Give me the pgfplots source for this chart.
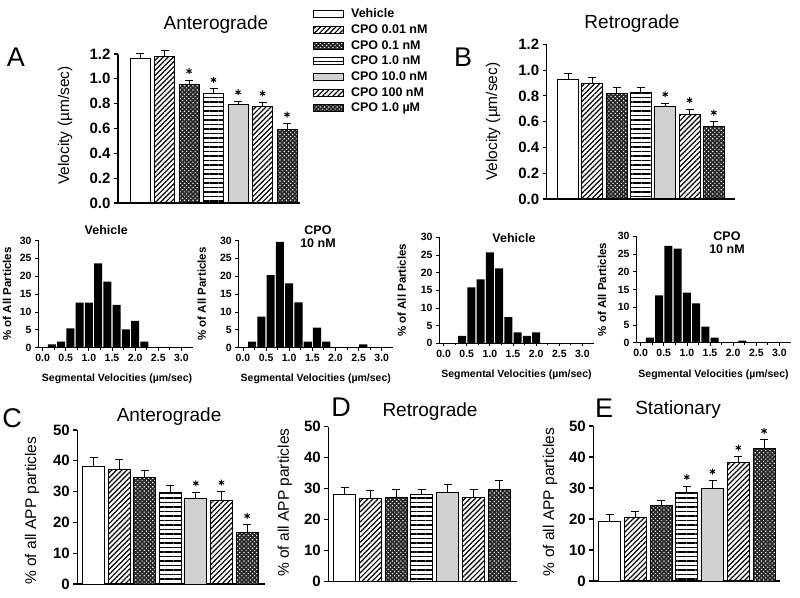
\documentclass[border=0pt]{standalone}
\usepackage{fontspec}
\setmainfont{Liberation Sans}
\usepackage{pgfplots}
\pgfplotsset{compat=1.18}
\usetikzlibrary{patterns.meta}

\newcommand{\fs}[1]{\fontsize{#1}{#1}\selectfont}

\pgfplotsset{
  barpanel/.style={
    scale only axis, clip=false,
    axis x line*=bottom, axis y line*=left,
    xtick=\empty, tick align=outside, major tick length=4pt,
    axis line style={line width=1.1pt},
    every tick/.style={black, line width=1.1pt},
    /pgf/number format/assume math mode=true,
    tick label style={font=\bfseries\fs{15}},
    ylabel style={font=\fs{15.5}, anchor=center},
    every axis title/.style={font=\fs{19}, anchor=center},
  },
  barbase/.style={ybar, bar shift=0pt, draw=black, line width=1pt, forget plot,
    error bars/y dir=plus, error bars/y explicit,
    error bars/error bar style={line width=1pt, black},
    error bars/error mark options={rotate=90, mark size=4pt, line width=1pt, black}},
  s1/.style={barbase, fill=white},
  s2/.style={barbase, pattern={Lines[angle=45,distance=3.6pt,line width=1.2pt]}, pattern color=black},
  s3/.style={barbase, fill=black!85, postaction={pattern={Dots[distance=3pt,radius=0.8pt,angle=45]}, pattern color=white}},
  s4/.style={barbase, pattern={Lines[angle=0,distance=4.5pt,line width=1.4pt]}, pattern color=black},
  s5/.style={barbase, fill=black!18},
  stars/.style={only marks, mark=asterisk, mark size=3pt, line width=1pt, black, forget plot},
  hist/.style={
    scale only axis, clip=false, width=155pt,
    axis x line*=bottom, axis y line*=left,
    xmin=-0.1, xmax=3.25, ymin=0, ymax=30,
    xtick={0,0.5,1,1.5,2,2.5,3}, ytick={0,5,10,15,20,25,30},
    minor x tick num=1,
    tick align=outside, major tick length=3pt, minor tick length=2pt,
    axis line style={line width=0.8pt},
    every tick/.style={black, line width=0.8pt},
    /pgf/number format/assume math mode=true,
    tick label style={font=\bfseries\fs{10.5}},
    xticklabel style={/pgf/number format/.cd, fixed, fixed zerofill, precision=1},
    xlabel={Segmental Velocities (µm/sec)},
    ylabel={\% of All Particles},
    xlabel style={font=\bfseries\fs{10.5}, anchor=center},
    ylabel style={font=\bfseries\fs{11.5}, anchor=center},
    every axis title/.style={font=\bfseries\fs{12.5}, align=center, anchor=center},
  },
  hbar/.style={ybar, bar width=0.175, bar shift=0pt, fill=black, draw=none},
}

\begin{document}
\begin{tikzpicture}[x=1pt,y=1pt]
\useasboundingbox (0,0) rectangle (800,597);

% ---------- A ----------
\begin{axis}[barpanel, at={(118pt,394pt)}, anchor=south west,
  width=182pt, height=149pt, xmin=-0.9, xmax=6.53, ymin=0, ymax=1.2,
  ytick={0,0.2,0.4,0.6,0.8,1.0,1.2},
  yticklabel style={/pgf/number format/.cd, fixed, fixed zerofill, precision=1},
  ylabel={Velocity (µm/sec)},
  ylabel style={at={(axis description cs:-0.29,0.52)}},
  title={Anterograde}, title style={at={(axis description cs:0.538,1.195)}},
  legend image code/.code={\draw[#1, line width=1pt] (0pt,-3.5pt) rectangle (30pt,3.5pt);},
  legend style={at={(axis description cs:1.071,1.305)}, anchor=north west,
    draw=none, fill=none, inner sep=0pt, font=\bfseries\fs{12.5},
    row sep=4.7pt, column sep=7pt,
    nodes={inner sep=0pt, text height=9pt, text depth=2pt}, cells={anchor=west}},
]
\addplot[s1, bar width=20pt] coordinates {(0,1.165) +- (0,0.035)};
\addplot[s2, bar width=20pt] coordinates {(1,1.18) +- (0,0.045)};
\addplot[s3, bar width=20pt] coordinates {(2,0.955) +- (0,0.035)};
\addplot[s4, bar width=20pt] coordinates {(3,0.88) +- (0,0.04)};
\addplot[s5, bar width=20pt] coordinates {(4,0.79) +- (0,0.03)};
\addplot[s2, bar width=20pt] coordinates {(5,0.775) +- (0,0.035)};
\addplot[s3, bar width=20pt] coordinates {(6,0.595) +- (0,0.045)};
\addplot[stars] coordinates {(2,1.062) (3,0.992) (4,0.892) (5,0.882) (6,0.712)};
\addlegendimage{fill=white}
\addlegendentry{Vehicle}
\addlegendimage{pattern={Lines[angle=45,distance=3.6pt,line width=1.2pt]}, pattern color=black}
\addlegendentry{CPO 0.01 nM}
\addlegendimage{fill=black!85, postaction={pattern={Dots[distance=3pt,radius=0.8pt,angle=45]}, pattern color=white}}
\addlegendentry{CPO 0.1 nM}
\addlegendimage{pattern={Lines[angle=0,distance=4.5pt,line width=1.4pt]}, pattern color=black}
\addlegendentry{CPO 1.0 nM}
\addlegendimage{fill=black!18}
\addlegendentry{CPO 10.0 nM}
\addlegendimage{pattern={Lines[angle=45,distance=3.6pt,line width=1.2pt]}, pattern color=black}
\addlegendentry{CPO 100 nM}
\addlegendimage{fill=black!85, postaction={pattern={Dots[distance=3pt,radius=0.8pt,angle=45]}, pattern color=white}}
\addlegendentry{CPO 1.0 µM}
\end{axis}

% ---------- B ----------
\begin{axis}[barpanel, at={(546.7pt,398pt)}, anchor=south west,
  width=188.3pt, height=154.7pt, xmin=-0.877, xmax=6.87, ymin=0, ymax=1.2,
  ytick={0,0.2,0.4,0.6,0.8,1.0,1.2},
  yticklabel style={/pgf/number format/.cd, fixed, fixed zerofill, precision=1},
  ylabel={Velocity (µm/sec)},
  ylabel style={at={(axis description cs:-0.285,0.5)}},
  title={Retrograde}, title style={at={(axis description cs:0.453,1.131)}},
]
\addplot[s1, bar width=21pt] coordinates {(0,0.929) +- (0,0.041)};
\addplot[s2, bar width=21pt] coordinates {(1,0.897) +- (0,0.043)};
\addplot[s3, bar width=21pt] coordinates {(2,0.817) +- (0,0.046)};
\addplot[s4, bar width=21pt] coordinates {(3,0.828) +- (0,0.035)};
\addplot[s5, bar width=21pt] coordinates {(4,0.716) +- (0,0.026)};
\addplot[s2, bar width=21pt] coordinates {(5,0.657) +- (0,0.039)};
\addplot[s3, bar width=21pt] coordinates {(6,0.566) +- (0,0.034)};
\addplot[stars] coordinates {(4,0.812) (5,0.766) (6,0.67)};
\end{axis}

% ---------- histograms ----------
\begin{axis}[hist, at={(38pt,249.3pt)}, anchor=south west, height=107.3pt,
  ylabel style={at={(axis description cs:-0.2,0.5)}},
  xlabel style={at={(axis description cs:0.51,-0.29)}},
  title={Vehicle}, title style={at={(axis description cs:0.44,1.097)}}]
\addplot[hbar] coordinates {(0.2,0.9) (0.4,1.7) (0.6,5.4) (0.8,12.6) (1.0,12.6) (1.2,23.6) (1.4,18.5) (1.6,12) (1.8,5.1) (2.0,7.5) (2.2,1.7)};
\end{axis}

\begin{axis}[hist, at={(238.3pt,249.3pt)}, anchor=south west, height=107.3pt,
  ylabel style={at={(axis description cs:-0.236,0.5)}},
  xlabel style={at={(axis description cs:0.5,-0.29)}},
  title={CPO\\10 nM}, title style={at={(axis description cs:0.514,1.036)}}]
\addplot[hbar] coordinates {(0.2,1.7) (0.4,8.7) (0.6,20.3) (0.8,29.6) (1.0,18) (1.2,12.7) (1.4,1.7) (1.6,5.6) (1.8,1.7) (2.6,0.9)};
\end{axis}

\begin{axis}[hist, at={(439pt,253.7pt)}, anchor=south west, height=106pt,
  ylabel style={at={(axis description cs:-0.24,0.5)}},
  xlabel style={at={(axis description cs:0.5,-0.3)}},
  title={Vehicle}, title style={at={(axis description cs:0.484,0.996)}}]
\addplot[hbar] coordinates {(0.4,2.1) (0.6,15.8) (0.8,18.1) (1.0,25.7) (1.2,21.2) (1.4,7.4) (1.6,3.1) (1.8,2.1) (2.0,3.1)};
\end{axis}

\begin{axis}[hist, at={(636pt,254.3pt)}, anchor=south west, height=106.5pt,
  ylabel style={at={(axis description cs:-0.22,0.5)}},
  xlabel style={at={(axis description cs:0.5,-0.3)}},
  title={CPO\\10 nM}, title style={at={(axis description cs:0.587,0.94)}}]
\addplot[hbar] coordinates {(0.2,1.4) (0.4,13.3) (0.6,27.3) (0.8,26.5) (1.0,14.1) (1.2,11.1) (1.4,4.5) (1.6,1.4) (2.2,0.6)};
\end{axis}

% ---------- C ----------
\begin{axis}[barpanel, at={(77.3pt,13pt)}, anchor=south west,
  width=187.7pt, height=154pt, xmin=-0.633, xmax=6.70, ymin=0, ymax=50,
  ytick={0,10,20,30,40,50},
  ylabel={\% of all APP particles},
  ylabel style={at={(axis description cs:-0.241,0.476)}},
  title={Anterograde}, title style={at={(axis description cs:0.489,1.086)}},
]
\addplot[s1, bar width=22pt] coordinates {(0,38.1) +- (0,2.9)};
\addplot[s2, bar width=22pt] coordinates {(1,37.2) +- (0,3.1)};
\addplot[s3, bar width=22pt] coordinates {(2,34.5) +- (0,2.5)};
\addplot[s4, bar width=22pt] coordinates {(3,29.7) +- (0,2.2)};
\addplot[s5, bar width=22pt] coordinates {(4,27.6) +- (0,2.2)};
\addplot[s2, bar width=22pt] coordinates {(5,27.1) +- (0,2.9)};
\addplot[s3, bar width=22pt] coordinates {(6,16.7) +- (0,2.5)};
\addplot[stars] coordinates {(4,32.7) (5,32.9) (6,22.1)};
\end{axis}

% ---------- D ----------
\begin{axis}[barpanel, at={(328.3pt,15.3pt)}, anchor=south west,
  width=188.4pt, height=155pt, xmin=-0.628, xmax=6.674, ymin=0, ymax=50,
  ytick={0,10,20,30,40,50},
  ylabel={\% of all APP particles},
  ylabel style={at={(axis description cs:-0.23,0.51)}},
  title={Retrograde}, title style={at={(axis description cs:0.54,1.095)}},
]
\addplot[s1, bar width=22pt] coordinates {(0,28.0) +- (0,2.4)};
\addplot[s2, bar width=22pt] coordinates {(1,26.9) +- (0,2.5)};
\addplot[s3, bar width=22pt] coordinates {(2,27.2) +- (0,2.4)};
\addplot[s4, bar width=22pt] coordinates {(3,28.2) +- (0,1.7)};
\addplot[s5, bar width=22pt] coordinates {(4,28.7) +- (0,2.5)};
\addplot[s2, bar width=22pt] coordinates {(5,27.1) +- (0,2.5)};
\addplot[s3, bar width=22pt] coordinates {(6,29.6) +- (0,3.0)};
\end{axis}

% ---------- E ----------
\begin{axis}[barpanel, at={(593.3pt,16pt)}, anchor=south west,
  width=186.7pt, height=155pt, xmin=-0.629, xmax=6.62, ymin=0, ymax=50,
  ytick={0,10,20,30,40,50},
  ylabel={\% of all APP particles},
  ylabel style={at={(axis description cs:-0.232,0.51)}},
  title={Stationary}, title style={at={(axis description cs:0.454,1.103)}},
]
\addplot[s1, bar width=22pt] coordinates {(0,19.35) +- (0,1.95)};
\addplot[s2, bar width=22pt] coordinates {(1,20.4) +- (0,2.0)};
\addplot[s3, bar width=22pt] coordinates {(2,24.3) +- (0,1.8)};
\addplot[s4, bar width=22pt] coordinates {(3,28.5) +- (0,2.1)};
\addplot[s5, bar width=22pt] coordinates {(4,29.9) +- (0,2.5)};
\addplot[s2, bar width=22pt] coordinates {(5,38.2) +- (0,1.9)};
\addplot[s3, bar width=22pt] coordinates {(6,42.6) +- (0,2.9)};
\addplot[stars] coordinates {(3,33.5) (4,35.3) (5,43.0) (6,48.4)};
\end{axis}

% panel letters
\node[font=\fs{27}] at (16,540) {A};
\node[font=\fs{27}] at (463,540) {B};
\node[font=\fs{27}] at (12,179) {C};
\node[font=\fs{27}] at (341,190) {D};
\node[font=\fs{27}] at (604,189) {E};
\end{tikzpicture}
\end{document}
